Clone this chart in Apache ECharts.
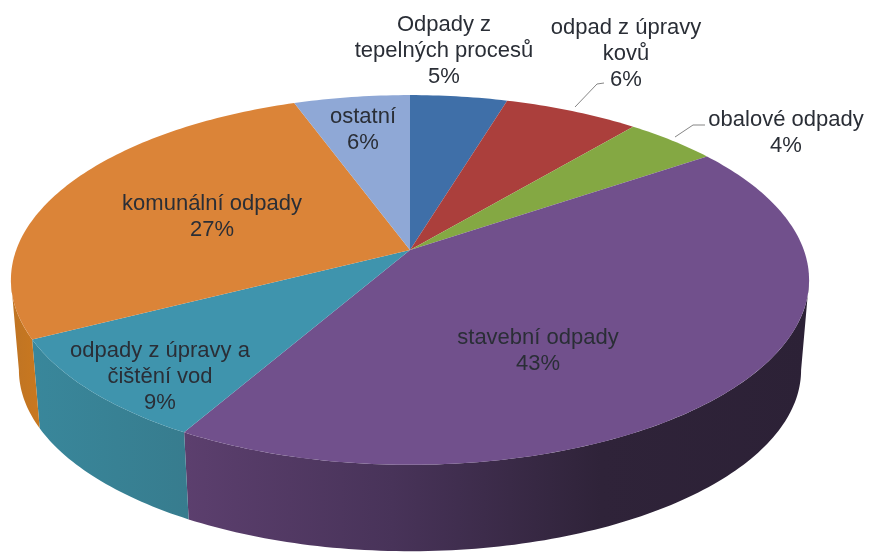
<!DOCTYPE html>
<html><head><meta charset="utf-8">
<style>html,body{margin:0;padding:0;background:#fff}#c{width:869px;height:556px;filter:blur(0.5px)}</style>
<script src="https://cdn.jsdelivr.net/npm/echarts@6/dist/echarts.min.js"></script>
</head><body><div id="c"></div>
<script>
const categories = ['Odpady z\ntepelných procesů','odpad z úpravy\nkovů','obalové odpady','stavební odpady','odpady z úpravy a\nčištění vod','komunální odpady','ostatní'];
const values = [4.6, 6.4, 4.4, 42.8, 9.2, 27.1, 5.5];

// style / layout, kept apart from the data
const topColors = ['#3f6fa8','#ab3f3c','#84a843','#71508c','#3f94ad','#db8438','#8fa8d6'];
const wallColors = [['#2f5480'],['#7e2f2c'],['#627e32'],['#5c3f6e','#483359','#2f2339','#2c2136'],['#39879b','#377c8e'],['#bf7424','#c9781f'],['#6c80a0']];
const labelCentres = [[444,51],[626,54],[786,133],[538,351],[160,377],[212,217],[363,130]];
const leaders = [null,[[575,107],[597,84],[604,83]],[[675,137],[693,125],[705,125]],null,null,null,null];
const CX=410, CY=250, A=393.8, B=180, K=0.162, S=0.98, CY2=340.7;
const total = values.reduce((a,b)=>a+b,0);
const starts = values.map((v,i)=>values.slice(0,i).reduce((a,b)=>a+b,0)/total*360);

function topPt(deg){
  const t=deg*Math.PI/180, u=Math.sin(t), v=-Math.cos(t), w=1-K*v;
  return [CX+A*u/w, CY+B*v/w];
}
function botPt(deg){ const p=topPt(deg); return [CX+S*(p[0]-CX), CY2+S*(p[1]-CY)]; }
function arc(fn,a,b){ const n=Math.max(2,Math.ceil(Math.abs(b-a))), r=[]; for(let i=0;i<=n;i++) r.push(fn(a+(b-a)*i/n)); return r; }
const FRONT_A=90+Math.asin(K)*180/Math.PI, FRONT_B=360-FRONT_A;

function renderItem(params, api){
  const i=params.dataIndex, a=starts[i], b=a+api.value(0)/total*360, ch=[];
  const wa=Math.max(a,FRONT_A), wb=Math.min(b,FRONT_B);
  if(wb>wa){
    const pts=arc(topPt,wa,wb).concat(arc(botPt,wa,wb).reverse());
    const xs=pts.map(p=>p[0]), x0=Math.min(...xs), x1=Math.max(...xs), cs=wallColors[i];
    const stops=cs.map((c,k)=>({offset:cs.length>1?k/(cs.length-1):0,color:c}));
    ch.push({type:'polygon',shape:{points:pts},style:{fill:new echarts.graphic.LinearGradient(x0,0,x1,0,stops,true)}});
  }
  return {type:'group',children:ch.concat([{type:'polygon',shape:{points:[[CX,CY]].concat(arc(topPt,a,b))},style:{fill:topColors[i]}}])};
}
function labelItem(params, api){
  const i=params.dataIndex, ch=[];
  if(leaders[i]) ch.push({type:'polyline',shape:{points:leaders[i]},style:{stroke:'#858585',lineWidth:1,fill:null}});
  ch.push({type:'text',style:{text:categories[i]+'\n'+Math.round(api.value(0))+'%',x:labelCentres[i][0],y:labelCentres[i][1],align:'center',verticalAlign:'middle',fill:'#2a2e36',font:'22px "Liberation Sans"',lineHeight:26}});
  return {type:'group',children:ch};
}
const chart=echarts.init(document.getElementById('c'));
chart.setOption({
  animation:false,
  series:[
    {type:'custom',coordinateSystem:'none',renderItem,data:values,silent:true,z:1,encode:{value:0}},
    {type:'custom',coordinateSystem:'none',renderItem:labelItem,data:values,silent:true,z:2,encode:{value:0}}
  ]
});
</script></body></html>
